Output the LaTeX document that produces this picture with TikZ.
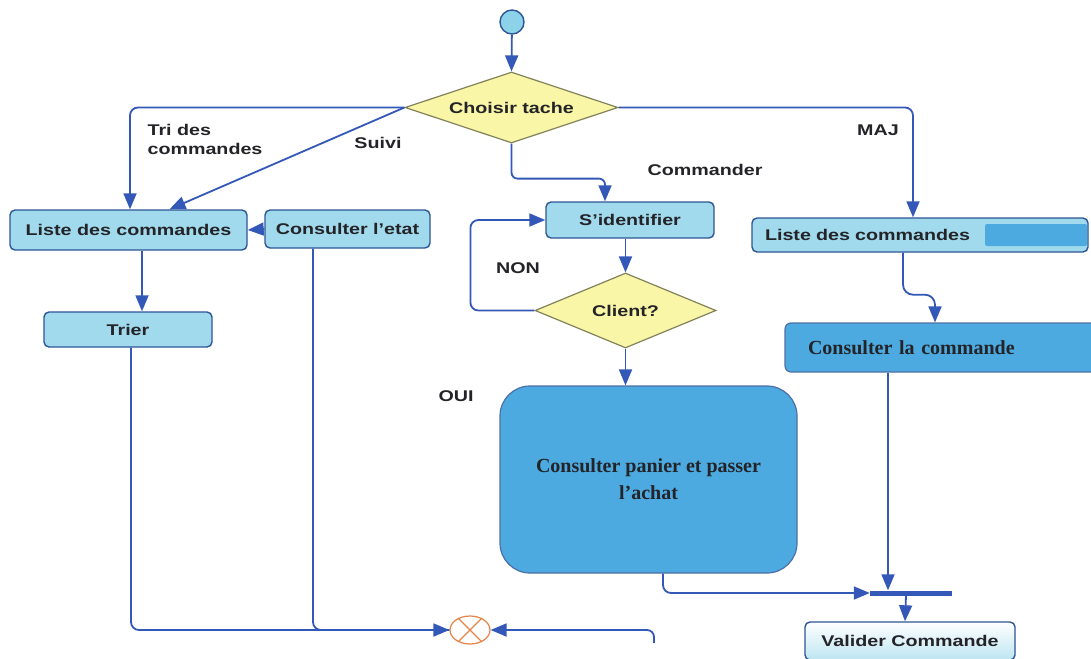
\documentclass[tikz,border=0pt]{standalone}
\usepackage{fontspec}
\setmainfont{Liberation Serif}
\setsansfont{Liberation Sans}[FakeStretch=1.27]
\usetikzlibrary{shapes.geometric,arrows.meta}

\definecolor{flow}{RGB}{52,88,184}
\definecolor{edge}{RGB}{46,86,150}
\definecolor{paleblue}{RGB}{160,218,236}
\definecolor{midblue}{RGB}{76,170,224}
\definecolor{startfill}{RGB}{140,210,232}
\definecolor{paleyellow}{RGB}{250,246,168}
\definecolor{olive}{RGB}{130,130,90}
\definecolor{ink}{RGB}{35,35,40}
\definecolor{joinorange}{RGB}{228,132,72}

\tikzset{
  flowline/.style={draw=flow, line width=1.8pt},
  arr/.style={flowline, -{Triangle[length=16pt,width=13pt]}},
  sans/.style={font=\sffamily\bfseries\fontsize{15.5}{19}\selectfont, text=ink},
  serif/.style={font=\rmfamily\bfseries\fontsize{20}{27}\selectfont, text=ink},
  box/.style={rectangle, rounded corners=5pt, draw=edge, line width=1.4pt,
    fill=paleblue, inner sep=0pt, sans},
  bigbox/.style={rectangle, draw=edge!85, line width=1.2pt, fill=midblue,
    inner sep=0pt, serif},
  decision/.style={diamond, aspect=3, draw=olive, line width=1.2pt,
    fill=paleyellow, inner sep=0pt, sans},
  lbl/.style={sans, inner sep=0pt},
}

\begin{document}
\begin{tikzpicture}[x=1pt, y=-1pt]
\useasboundingbox (0,0) rectangle (1091,658);
\clip (0,0) rectangle (1091,658);
\fill[white] (0,0) rectangle (1091,658);

% --- nodes ---
\node[circle, draw=edge, fill=startfill, line width=1.4pt, minimum size=24pt,
      inner sep=0pt] (start) at (512,22) {};
\node[decision, minimum width=213pt, minimum height=71pt] (choose) at (511.5,107.5) {Choisir tache};

\node[box, minimum width=237pt, minimum height=40pt] (listeA) at (128.5,230) {Liste des commandes};
\node[box, minimum width=165pt, minimum height=38pt] (etat) at (347.5,229) {Consulter l'etat};
\node[box, minimum width=168pt, minimum height=35pt] (trier) at (128,329.5) {Trier};

\node[box, minimum width=168pt, minimum height=36pt] (ident) at (630,220) {S'identifier};
\node[decision, minimum width=181pt, minimum height=75pt] (client) at (625.5,310.5) {Client?};
\node[bigbox, rounded corners=30pt, minimum width=297pt, minimum height=187pt, align=center]
      (panier) at (648.5,479.5) {Consulter panier et passer\\l'achat};

\node[box, minimum width=336pt, minimum height=34pt, inner xsep=13pt, text width=310pt,
      align=left] (listeB) at (920,235) {Liste des commandes};
\node[rectangle, rounded corners=2pt, fill=midblue, minimum width=102pt, minimum height=22pt,
      inner sep=0pt] (mask) at (1036,235) {};
\node[bigbox, rounded corners=6pt, minimum width=330pt, minimum height=49pt, inner xsep=23pt,
      text width=284pt, align=left] (consult) at (950,347.5) {Consulter la commande};

\node[rectangle, fill=flow, minimum width=82pt, minimum height=5pt, inner sep=0pt]
      (bar) at (911,593) {};
\node[box, rounded corners=5pt, top color=white, bottom color=paleblue!70,
      minimum width=210pt, minimum height=38pt] (valider) at (910,641) {Valider Commande};

\node[ellipse, draw=joinorange, line width=1.2pt, fill=white, minimum width=40pt,
      minimum height=28pt, inner sep=0pt] (join) at (470,630) {};
\draw[joinorange, line width=1.2pt] (join.135) -- (join.-45) (join.45) -- (join.-135);
\coordinate (loose) at (654,643);

% --- labels ---
\node[lbl, align=left] (ltri) at (205,139) {Tri des\\commandes};
\node[lbl] (lsuivi) at (378,143) {Suivi};
\node[lbl] (lmaj) at (878,130) {MAJ};
\node[lbl] (lcmd) at (705,170) {Commander};
\node[lbl] (lnon) at (518,268) {NON};
\node[lbl] (loui) at (456,396) {OUI};

% --- connectors ---
\draw[arr] (start) -- (choose.north);
\draw[arr, rounded corners=8pt] (choose.west) -| ([xshift=1.5pt]listeA.north);
\draw[arr] (choose.west) -- ([xshift=41pt]listeA.north);
\draw[arr, rounded corners=8pt] (choose.east) -| ([xshift=-7pt]listeB.north);
\draw[arr, rounded corners=6pt] (choose.south) -- ++(0,35) -| ([xshift=-25pt]ident.north);

\draw[arr] (etat.west) -- (listeA.east);
\draw[arr] ([xshift=13.5pt]listeA.south) -- ([xshift=14pt]trier.north);
\draw[flowline, rounded corners=8pt] ([xshift=3pt]trier.south) |- (join.west);
\draw[arr, rounded corners=8pt] ([xshift=-34.5pt]etat.south) |- (join.west);
\draw[arr, rounded corners=7pt] (loose) |- (join.east);

\draw[arr] (client.north |- ident.south) -- (client.north);
\draw[arr, rounded corners=8pt] (client.west) -- ++(-64,0) |- (ident.west);
\draw[arr] (client.south) -- (client.south |- panier.north);
\draw[arr, rounded corners=8pt] ([xshift=14.5pt]panier.south) |- (bar.west);

\draw[arr, rounded corners=10pt] ([xshift=-17pt]listeB.south) -- ++(0,42) -| ([xshift=-15pt]consult.north);
\draw[arr] ([xshift=-62pt]consult.south) -- ([xshift=-62pt]consult.south |- bar.north);
\draw[arr] ([xshift=-5pt]bar.south) -- ([xshift=-5pt]valider.north);
\end{tikzpicture}
\end{document}
